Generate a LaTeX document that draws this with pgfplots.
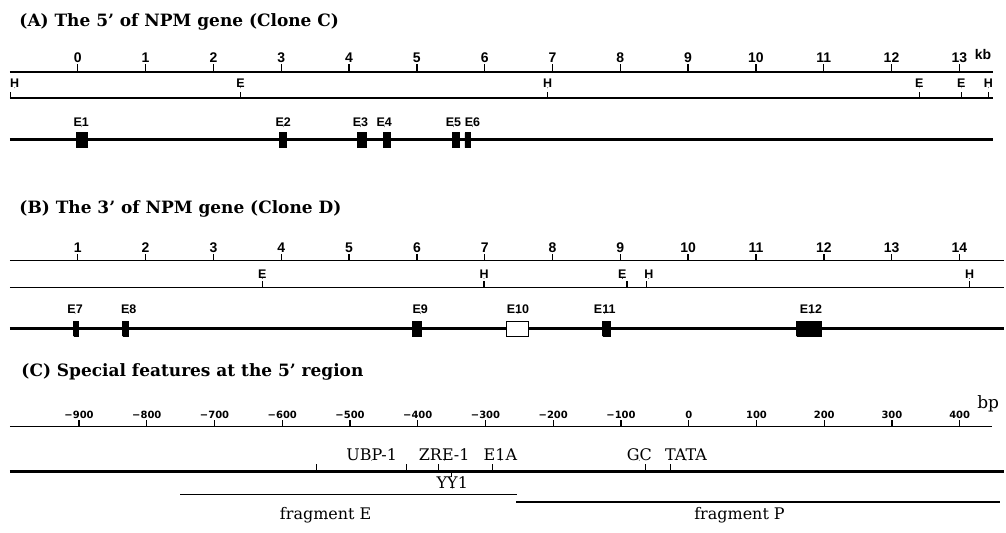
\documentclass[border=0pt]{standalone}
\usepackage{pgfplots}
\pgfplotsset{compat=1.18}
\usepackage{fontspec}
\setmainfont{DejaVu Serif}
\newfontfamily\arial{Liberation Sans}
\newfontfamily\dvs{DejaVu Sans}
\newcommand\fs[1]{\fontsize{#1}{#1}\selectfont}

% y values are pixel rows counted from the bottom of the figure (533 px tall)
\pgfplotsset{
  map/.style={
    scale only axis, clip=false, anchor=north west,
    axis x line=top, axis y line=none,
    x axis line style={-, line width=1.4pt},
    tick align=outside, major tick length=7pt,
    xtick style={draw=none},
    xticklabel style={font=\arial\bfseries\fs{14}, inner sep=1pt},
    /pgf/number format/assume math mode=true,
  },
  labels/.style={draw=none, only marks, mark=*, mark size=0.1pt,
    mark options={draw=none, fill=none},
    nodes near coords, point meta=explicit symbolic,
    every node near coord/.append style={anchor=base, inner sep=0pt, text=black, font=#1}},
  ticks/.style={black, line width=#1, unbounded coords=jump, mark=none},
  exon/.style={fill=black, draw=black, line width=0.6pt},
}

\begin{document}
\begin{tikzpicture}
\path (0,0) rectangle (1006pt,533pt);

\node[anchor=base west, font=\bfseries\fs{17}] at (16pt,506pt) {(A) The 5' of NPM gene (Clone C)};
\node[anchor=base west, font=\bfseries\fs{17}] at (16pt,319pt) {(B) The 3' of NPM gene (Clone D)};
\node[anchor=base west, font=\bfseries\fs{17}] at (18pt,156pt) {(C) Special features at the 5' region};

% ---------------- (A) clone C, kb
\begin{axis}[map, at={(10pt,461pt)}, width=985pt, height=78pt,
  xmin=-1, xmax=13.5, ymin=383, ymax=461, xtick={0,...,13}, major tick length=8pt]
% scale ticks
\addplot[ticks=1.4pt] coordinates {
(0,461)(0,469)(0,nan) (1,461)(1,469)(1,nan) (2,461)(2,469)(2,nan) (3,461)(3,469)(3,nan)
(4,461)(4,469)(4,nan) (5,461)(5,469)(5,nan) (6,461)(6,469)(6,nan) (7,461)(7,469)(7,nan)
(8,461)(8,469)(8,nan) (9,461)(9,469)(9,nan) (10,461)(10,469)(10,nan) (11,461)(11,469)(11,nan)
(12,461)(12,469)(12,nan) (13,461)(13,469)};
% restriction map
\addplot[line width=1.4pt] coordinates {(-1,435) (13.5,435)};
\addplot[ticks=1.3pt] coordinates {
(-0.99,435)(-0.99,441)(-0.99,nan) (2.40,435)(2.40,441)(2.40,nan) (6.93,435)(6.93,441)(6.93,nan)
(12.41,435)(12.41,441)(12.41,nan) (13.03,435)(13.03,441)(13.03,nan) (13.43,435)(13.43,441)};
\addplot[labels={\arial\bfseries\fs{12.5}}] table[row sep=\\, meta=l] {
x y l\\ -0.93 445 H\\ 2.40 445 E\\ 6.93 445 H\\ 12.41 445 E\\ 13.03 445 E\\ 13.43 445 H\\};
% gene
\addplot[line width=3.2pt] coordinates {(-1,393) (13.5,393)};
\addplot[exon] coordinates {(-0.015,385) (0.147,385) (0.147,400) (-0.015,400) (-0.015,385)};
\addplot[exon] coordinates {(2.97,385) (3.08,385) (3.08,400) (2.97,400) (2.97,385)};
\addplot[exon] coordinates {(4.12,385) (4.26,385) (4.26,400) (4.12,400) (4.12,385)};
\addplot[exon] coordinates {(4.51,385) (4.61,385) (4.61,400) (4.51,400) (4.51,385)};
\addplot[exon] coordinates {(5.52,385) (5.63,385) (5.63,400) (5.52,400) (5.52,385)};
\addplot[exon] coordinates {(5.71,385) (5.79,385) (5.79,400) (5.71,400) (5.71,385)};
\addplot[labels={\arial\bfseries\fs{12.5}}] table[row sep=\\, meta=l] {
x y l\\ 0.05 406 E1\\ 3.03 406 E2\\ 4.17 406 E3\\ 4.52 406 E4\\ 5.54 406 E5\\ 5.82 406 E6\\};
\node[anchor=base, font=\arial\bfseries\fs{14}] at (axis cs:13.35,473) {kb};
\end{axis}

% ---------------- (B) clone D, kb
\begin{axis}[map, at={(10pt,272pt)}, width=996pt, height=84pt,
  xmin=0, xmax=14.66, ymin=188, ymax=272, xtick={1,...,14}]
\addplot[ticks=1.4pt] coordinates {
(1,272)(1,279)(1,nan) (2,272)(2,279)(2,nan) (3,272)(3,279)(3,nan) (4,272)(4,279)(4,nan)
(5,272)(5,279)(5,nan) (6,272)(6,279)(6,nan) (7,272)(7,279)(7,nan) (8,272)(8,279)(8,nan)
(9,272)(9,279)(9,nan) (10,272)(10,279)(10,nan) (11,272)(11,279)(11,nan) (12,272)(12,279)(12,nan)
(13,272)(13,279)(13,nan) (14,272)(14,279)};
\addplot[line width=1.4pt] coordinates {(0,245) (14.66,245)};
\addplot[ticks=1.3pt] coordinates {
(3.72,245)(3.72,251)(3.72,nan) (6.99,245)(6.99,251)(6.99,nan) (9.10,245)(9.10,251)(9.10,nan)
(9.39,245)(9.39,251)(9.39,nan) (14.15,245)(14.15,251)};
\addplot[labels={\arial\bfseries\fs{12.5}}] table[row sep=\\, meta=l] {
x y l\\ 3.72 254 E\\ 6.99 254 H\\ 9.03 254 E\\ 9.42 254 H\\ 14.15 254 H\\};
\addplot[line width=3.2pt] coordinates {(0,204) (14.66,204)};
\addplot[exon] coordinates {(0.94,196) (1.01,196) (1.01,211) (0.94,211) (0.94,196)};
\addplot[exon] coordinates {(1.66,196) (1.75,196) (1.75,211) (1.66,211) (1.66,196)};
\addplot[exon] coordinates {(5.93,196) (6.06,196) (6.06,211) (5.93,211) (5.93,196)};
\addplot[fill=white, draw=black, line width=1.2pt] coordinates {(7.32,196) (7.65,196) (7.65,211) (7.32,211) (7.32,196)};
\addplot[exon] coordinates {(8.74,196) (8.85,196) (8.85,211) (8.74,211) (8.74,196)};
\addplot[exon] coordinates {(11.60,196) (11.97,196) (11.97,211) (11.60,211) (11.60,196)};
\addplot[labels={\arial\bfseries\fs{12.5}}] table[row sep=\\, meta=l] {
x y l\\ 0.96 219 E7\\ 1.75 219 E8\\ 6.05 219 E9\\ 7.49 219 E10\\ 8.77 219 E11\\ 11.81 219 E12\\};
\end{axis}

% ---------------- (C) 5' region, bp
\begin{axis}[map, at={(10pt,106pt)}, width=984pt, height=106pt,
  xmin=-1002, xmax=448, ymin=0, ymax=106, major tick length=6pt,
  xtick={-900,-800,...,400},
  xticklabels={−900,−800,−700,−600,−500,−400,−300,−200,−100,0,100,200,300,400},
  xticklabel style={font=\dvs\bfseries\fs{10}}]
\addplot[ticks=1.3pt] coordinates {
(-900,106)(-900,112)(-900,nan) (-800,106)(-800,112)(-800,nan) (-700,106)(-700,112)(-700,nan)
(-600,106)(-600,112)(-600,nan) (-500,106)(-500,112)(-500,nan) (-400,106)(-400,112)(-400,nan)
(-300,106)(-300,112)(-300,nan) (-200,106)(-200,112)(-200,nan) (-100,106)(-100,112)(-100,nan)
(0,106)(0,112)(0,nan) (100,106)(100,112)(100,nan) (200,106)(200,112)(200,nan)
(300,106)(300,112)(300,nan) (400,106)(400,112)};
\addplot[line width=3.2pt] coordinates {(-1002,61) (466,61)};
\addplot[ticks=1.2pt] coordinates {
(-549,61)(-549,68)(-549,nan) (-417,61)(-417,68)(-417,nan) (-369,61)(-369,68)(-369,nan)
(-290,61)(-290,68)(-290,nan) (-64,61)(-64,68)(-64,nan) (-27,61)(-27,68)(-27,nan)
(-350,61)(-350,55)};
\addplot[labels={\fs{16}}] table[row sep=\\, meta=l] {
x y l\\ -468 72 UBP-1\\ -361 72 ZRE-1\\ -278 72 E1A\\ -73 72 GC\\ -4 72 TATA\\ -349 44 YY1\\};
% fragments
\addplot[line width=1.2pt] coordinates {(-751,38) (-253,38)};
\addplot[line width=1.6pt] coordinates {(-255,30) (460,30)};
\addplot[labels={\fs{16}}] table[row sep=\\, meta=l] {
x y l\\ -536 13 {fragment E}\\ 75 13 {fragment P}\\};
\node[anchor=base, font=\fs{17}] at (axis cs:442,124) {bp};
\end{axis}
\end{tikzpicture}
\end{document}
